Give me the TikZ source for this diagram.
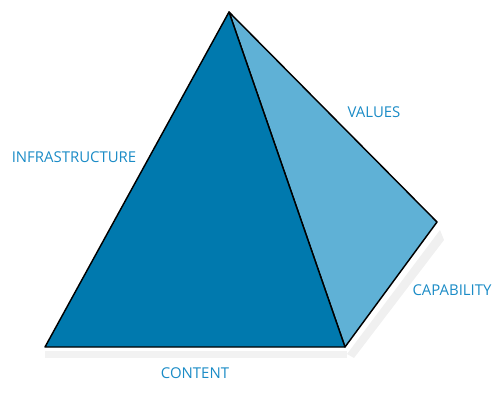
\documentclass[tikz,border=0pt]{standalone}
\usepackage{fontspec}
\setmainfont{Open Sans}
\definecolor{frontc}{HTML}{0079AE}
\definecolor{sidec}{HTML}{5FB1D6}
\definecolor{labc}{HTML}{1A8BC6}
\begin{document}
\begin{tikzpicture}[x=0.75pt,y=-0.75pt,
  face/.style={draw=black,line width=1.1pt,line join=round},
  lab/.style={text=labc,font=\fontsize{11.2}{13}\selectfont,inner sep=0pt}]
\useasboundingbox (0,0) rectangle (500,405);
\coordinate (apex) at (229,12);
\coordinate (bl) at (45,347);
\coordinate (br) at (345,347);
\coordinate (rt) at (437,222);
\fill[black!6] (347,354) -- (440,230) -- (444,240) -- (354,358) -- cycle;
\fill[black!5] (45,351) rectangle (347,358);
\path[face,fill=sidec] (apex) -- (rt) -- (br) -- cycle;
\path[face,fill=frontc] (apex) -- (br) -- (bl) -- cycle;
\node[lab] (infra) at (74,157) {INFRASTRUCTURE};
\node[lab] (values) at (374,112) {VALUES};
\node[lab] (cap) at (452,290) {CAPABILITY};
\node[lab] (content) at (195,373) {CONTENT};
\end{tikzpicture}
\end{document}
